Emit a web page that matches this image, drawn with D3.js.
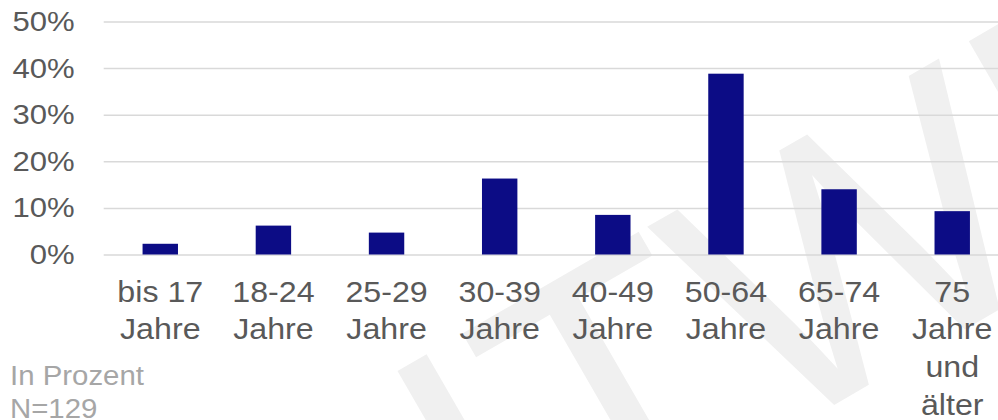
<!DOCTYPE html>
<html>
<head>
<meta charset="utf-8">
<script src="https://cdn.jsdelivr.net/npm/d3@7"></script>
<style>
  html, body { margin: 0; padding: 0; background: #ffffff; }
  svg { display: block; }
  text { font-family: "Liberation Sans", Arial, Helvetica, sans-serif; }
</style>
</head>
<body>
<svg id="chart" width="998" height="420"></svg>
<script>
// ---- data ----
const categories = ["bis 17 Jahre", "18-24 Jahre", "25-29 Jahre", "30-39 Jahre",
                    "40-49 Jahre", "50-64 Jahre", "65-74 Jahre", "75 Jahre und älter"];
const values = [2.3, 6.2, 4.7, 16.3, 8.5, 38.8, 14.0, 9.3];   // percent
const yTicks = [0, 10, 20, 30, 40, 50];
const notes = ["In Prozent", "N=129"];
const watermark = "ITWI";

// ---- layout ----
const W = 998, H = 420;
const plotLeft = 103.7, plotRight = 1008.8;
const yBottom = 254.5, yTop = 21.5;
const stretch = 1.11;   // text in the reference is slightly wider than tall

const svg = d3.select("#chart");

// watermark (decorative, under everything)
const wmSize = 360;
svg.append("text")
  .attr("transform", `translate(${393 + 0.2766 * wmSize},${362 + 0.667 * wmSize}) rotate(-30)`)
  .attr("font-size", wmSize)
  .attr("fill", "#f0f0f0")
  .text(watermark);

const x = d3.scaleBand()
  .domain(categories)
  .range([plotLeft, plotRight])
  .paddingInner(0.687)
  .paddingOuter(0.3435);

const y = d3.scaleLinear().domain([0, 50]).range([yBottom, yTop]);

// y axis with gridlines
const yAxis = d3.axisLeft(y)
  .tickValues(yTicks)
  .tickFormat(d => d + "%")
  .tickSizeInner(-(W + 4 - plotLeft))
  .tickSizeOuter(0)
  .tickPadding(29);

const gy = svg.append("g")
  .attr("transform", `translate(${plotLeft},0)`)
  .call(yAxis);
gy.select(".domain").remove();
gy.selectAll(".tick line").attr("stroke", "#d9d9d9").attr("stroke-width", 1.5);
gy.selectAll(".tick text")
  .attr("x", 0)
  .attr("transform", `translate(-29,0) scale(${stretch},1)`)
  .attr("fill", "#595959")
  .attr("font-size", 28)
  .attr("font-family", "'Liberation Sans', Arial, sans-serif");

// bars
svg.append("g").selectAll("rect")
  .data(values)
  .join("rect")
  .attr("x", (d, i) => x(categories[i]))
  .attr("width", x.bandwidth())
  .attr("y", d => y(d))
  .attr("height", d => y(0) - y(d))
  .attr("fill", "#0c0c85");

// x labels (wrapped)
const lineH = 37.8;
const maxW = 100 / stretch;
const gx = svg.append("g");
categories.forEach(c => {
  const g = gx.append("g")
    .attr("transform", `translate(${x(c) + x.bandwidth() / 2},301.5) scale(${stretch},1)`);
  const t = g.append("text")
    .attr("x", 0)
    .attr("y", 0)
    .attr("text-anchor", "middle")
    .attr("font-size", 29)
    .attr("fill", "#595959");
  const words = c.split(" ");
  let line = [];
  let tspan = t.append("tspan").attr("x", 0).attr("dy", 0);
  words.forEach(w => {
    line.push(w);
    tspan.text(line.join(" "));
    if (tspan.node().getComputedTextLength() > maxW && line.length > 1) {
      line.pop();
      tspan.text(line.join(" "));
      line = [w];
      tspan = t.append("tspan")
        .attr("x", 0)
        .attr("dy", lineH)
        .text(w);
    }
  });
});

// notes
svg.append("g").selectAll("text")
  .data(notes)
  .join("text")
  .attr("transform", (d, i) => `translate(10,${385 + i * 33}) scale(1.05,1)`)
  .attr("font-size", 28)
  .attr("fill", "#a6a6a6")
  .text(d => d);
</script>
</body>
</html>
